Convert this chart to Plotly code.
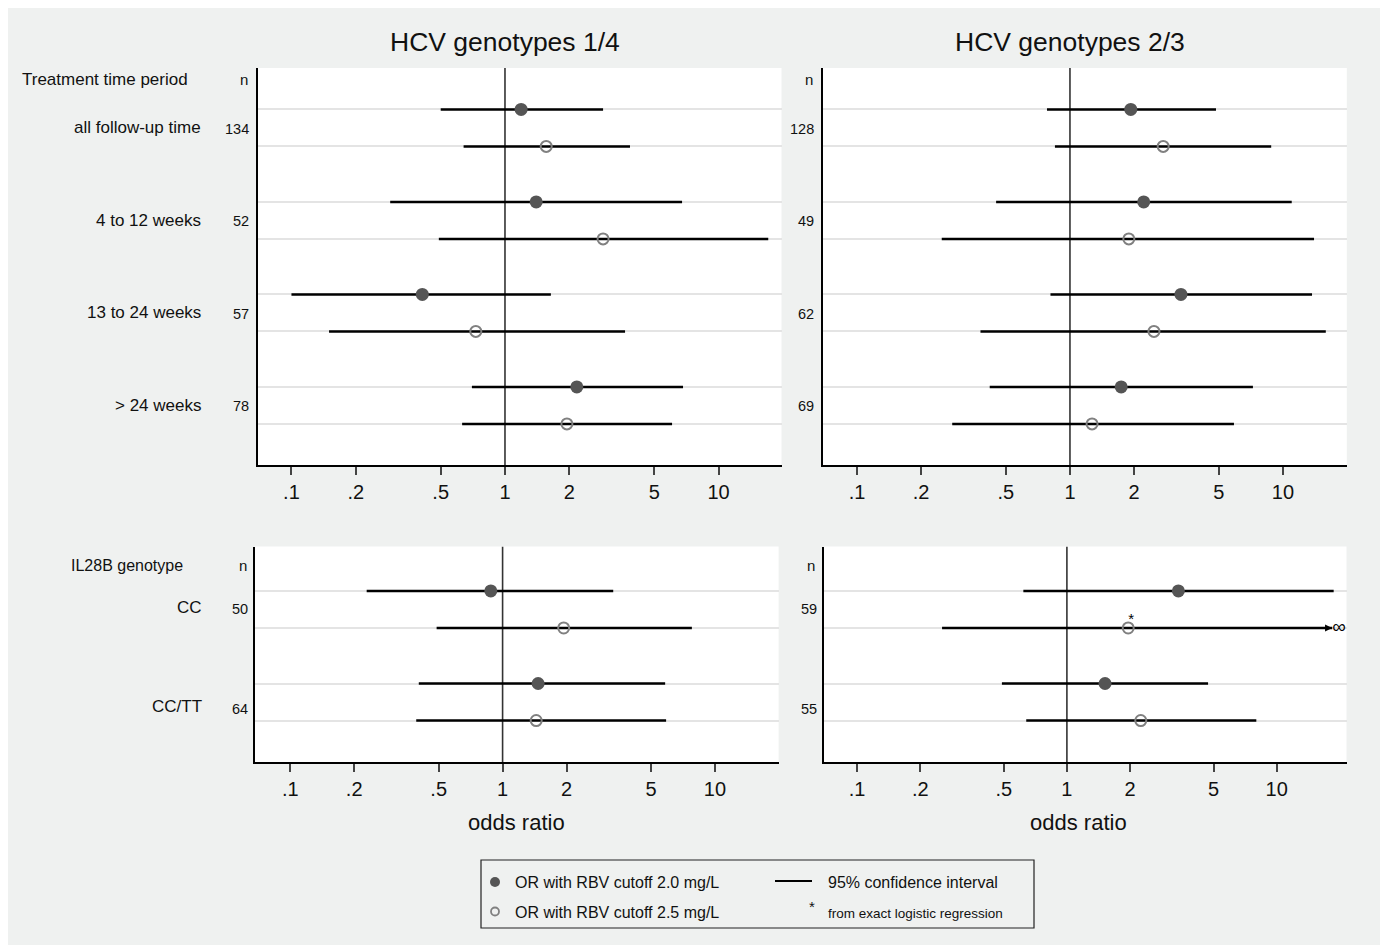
import math
import plotly.graph_objects as go

# ---------------- data ----------------
period_labels = ["all follow-up time", "4 to 12 weeks", "13 to 24 weeks", "> 24 weeks"]
period_n_14 = ["134", "52", "57", "78"]
period_n_23 = ["128", "49", "62", "69"]

il28b_labels = ["CC", "CC/TT"]
il28b_n_14 = ["50", "64"]
il28b_n_23 = ["59", "55"]

# HCV genotypes 1/4, treatment time period
or20_p14 = [1.19, 1.40, 0.41, 2.17]
lo20_p14 = [0.50, 0.29, 0.10, 0.70]
hi20_p14 = [2.88, 6.75, 1.64, 6.82]
or25_p14 = [1.56, 2.88, 0.73, 1.95]
lo25_p14 = [0.64, 0.49, 0.15, 0.63]
hi25_p14 = [3.85, 17.1, 3.65, 6.06]

# HCV genotypes 2/3, treatment time period
or20_p23 = [1.93, 2.22, 3.32, 1.74]
lo20_p23 = [0.78, 0.45, 0.81, 0.42]
hi20_p23 = [4.85, 11.0, 13.7, 7.23]
or25_p23 = [2.74, 1.89, 2.48, 1.27]
lo25_p23 = [0.85, 0.25, 0.38, 0.28]
hi25_p23 = [8.81, 14.0, 15.9, 5.89]

# HCV genotypes 1/4, IL28B genotype
or20_i14 = [0.88, 1.47]
lo20_i14 = [0.229, 0.403]
hi20_i14 = [3.32, 5.83]
or25_i14 = [1.94, 1.44]
lo25_i14 = [0.489, 0.392]
hi25_i14 = [7.79, 5.89]

# HCV genotypes 2/3, IL28B genotype (None = infinite upper bound)
or20_i23 = [3.40, 1.52]
lo20_i23 = [0.62, 0.49]
hi20_i23 = [18.7, 4.71]
or25_i23 = [1.96, 2.25]
lo25_i23 = [0.254, 0.64]
hi25_i23 = [None, 8.0]
exact_i23 = [True, False]   # cutoff 2.5 estimates from exact logistic regression

tick_vals = [0.1, 0.2, 0.5, 1, 2, 5, 10]
tick_text = [".1", ".2", ".5", "1", "2", "5", "10"]

# ---------------- style ----------------
W, H = 1388, 945
OFF = 8  # page margin of the browser
FONT = "Liberation Sans, Arial, Helvetica, sans-serif"
BG = "#eff1f0"
FILL_COL = "#555555"
OPEN_COL = "#808080"
INF_CAP = 18.4  # where an infinite upper bound is drawn (arrow end)


def px(x):
    return (x - OFF) / W


def py(y):
    return 1 - (y - OFF) / H


fig = go.Figure()

panels = [
    dict(ax="", xd=(257.5, 781.5), yd=(68, 465), xr=(-1.159, 1.295), yr=(-9.61, 1.12),
         d=(or20_p14, lo20_p14, hi20_p14, or25_p14, lo25_p14, hi25_p14), exact=None),
    dict(ax="2", xd=(822.5, 1346.8), yd=(68, 465), xr=(-1.162, 1.300), yr=(-9.61, 1.12),
         d=(or20_p23, lo20_p23, hi20_p23, or25_p23, lo25_p23, hi25_p23), exact=None),
    dict(ax="3", xd=(254.6, 778.6), yd=(546.5, 762), xr=(-1.168, 1.300), yr=(-4.62, 1.20),
         d=(or20_i14, lo20_i14, hi20_i14, or25_i14, lo25_i14, hi25_i14), exact=None),
    dict(ax="4", xd=(824, 1346.5), yd=(546.5, 762), xr=(-1.158, 1.333), yr=(-4.62, 1.20),
         d=(or20_i23, lo20_i23, hi20_i23, or25_i23, lo25_i23, hi25_i23), exact=exact_i23),
]

annotations = []
shapes = []

for p in panels:
    o20, l20, h20, o25, l25, h25 = p["d"]
    ng = len(o20)
    rows20 = [-(2.5 * g) for g in range(ng)]
    rows25 = [-(2.5 * g + 1) for g in range(ng)]
    xa = "x" + p["ax"]
    ya = "y" + p["ax"]

    # reference line at OR = 1
    fig.add_trace(go.Scatter(x=[1, 1], y=list(p["yr"]), mode="lines",
                             line=dict(color="#333333", width=1.6),
                             xaxis=xa, yaxis=ya, showlegend=False, hoverinfo="skip"))

    # CI lines
    cx, cy = [], []
    inf_rows = []
    for lo, hi, r in list(zip(l20, h20, rows20)) + list(zip(l25, h25, rows25)):
        top = hi if hi is not None else INF_CAP
        if hi is None:
            inf_rows.append(r)
        cx += [lo, top, None]
        cy += [r, r, None]
    fig.add_trace(go.Scatter(x=cx, y=cy, mode="lines", line=dict(color="#000000", width=2.6),
                             xaxis=xa, yaxis=ya, showlegend=False, hoverinfo="skip"))

    # point estimates
    fig.add_trace(go.Scatter(x=o20, y=rows20, mode="markers",
                             marker=dict(symbol="circle", size=13, color=FILL_COL,
                                         line=dict(width=0)),
                             xaxis=xa, yaxis=ya, showlegend=False))
    fig.add_trace(go.Scatter(x=o25, y=rows25, mode="markers",
                             marker=dict(symbol="circle-open", size=11, color=OPEN_COL,
                                         line=dict(width=2, color=OPEN_COL)),
                             xaxis=xa, yaxis=ya, showlegend=False))

    # infinite upper bounds: arrow + infinity sign
    for r in inf_rows:
        annotations.append(dict(x=math.log10(INF_CAP), y=r, xref=xa, yref=ya,
                                ax=math.log10(INF_CAP) - 0.06, ay=r, axref=xa, ayref=ya,
                                showarrow=True, arrowhead=2, arrowsize=1.1, arrowwidth=1.3,
                                arrowcolor="#000000", text=""))
        fig.add_trace(go.Scatter(x=[INF_CAP], y=[r], mode="text", text=["∞"],
                                 textposition="middle right",
                                 textfont=dict(family=FONT, size=19, color="#000000"),
                                 cliponaxis=False, xaxis=xa, yaxis=ya, showlegend=False))
    if p["exact"] is not None:
        ex_x = [v for v, e in zip(o25, p["exact"]) if e]
        ex_y = [r for r, e in zip(rows25, p["exact"]) if e]
        fig.add_trace(go.Scatter(x=ex_x, y=ex_y, mode="text", text=["*"] * len(ex_x),
                                 textposition="top right",
                                 textfont=dict(family=FONT, size=15, color="#000000"),
                                 cliponaxis=False, xaxis=xa, yaxis=ya, showlegend=False))

    axis_x = dict(type="log", domain=[px(p["xd"][0]), px(p["xd"][1])], range=list(p["xr"]),
                  anchor=ya, tickvals=tick_vals, ticktext=tick_text, ticks="outside",
                  ticklen=8, tickwidth=1.5, tickcolor="#444444",
                  tickfont=dict(family=FONT, size=20, color="#111111"),
                  showline=True, linecolor="#000000", linewidth=1.5, mirror=False,
                  showgrid=False, zeroline=False, fixedrange=True)
    axis_y = dict(domain=[py(p["yd"][1]), py(p["yd"][0])], range=list(p["yr"]), anchor=xa,
                  tickvals=sorted(rows20 + rows25), showticklabels=False, ticks="",
                  showgrid=True, gridcolor="#e4e4e4", gridwidth=1.6,
                  showline=True, linecolor="#000000", linewidth=1.5, mirror=False,
                  zeroline=False, fixedrange=True)
    fig.update_layout(**{"xaxis" + p["ax"]: axis_x, "yaxis" + p["ax"]: axis_y})


def txt(x, y, s, size, anchor="right", yanchor="middle", color="#111111"):
    annotations.append(dict(x=x, y=y, xref="paper", yref="paper", text=s, showarrow=False,
                            xanchor=anchor, yanchor=yanchor,
                            font=dict(family=FONT, size=size, color=color)))


# titles
txt(px(505), py(42), "HCV genotypes 1/4", 26.5, anchor="center")
txt(px(1070), py(42), "HCV genotypes 2/3", 26.5, anchor="center")

# row labels, top panels
txt(px(20), py(79), "Treatment time period", 17, anchor="left")
txt(px(250), py(79), "n", 15)
txt(px(815), py(79), "n", 15)
for g, lab in enumerate(period_labels):
    ymid = -(2.5 * g) - 0.5
    annotations.append(dict(x=px(203), y=ymid, xref="paper", yref="y", text=lab,
                            showarrow=False, xanchor="right", yanchor="middle",
                            font=dict(family=FONT, size=17, color="#111111")))
    annotations.append(dict(x=px(251), y=ymid, xref="paper", yref="y", text=period_n_14[g],
                            yshift=-1, showarrow=False, xanchor="right", yanchor="middle",
                            font=dict(family=FONT, size=14.5, color="#111111")))
    annotations.append(dict(x=px(816), y=ymid, xref="paper", yref="y2", text=period_n_23[g],
                            yshift=-1, showarrow=False, xanchor="right", yanchor="middle",
                            font=dict(family=FONT, size=14.5, color="#111111")))

# row labels, bottom panels
txt(px(69), py(565), "IL28B genotype", 16, anchor="left")
txt(px(249), py(565), "n", 15)
txt(px(817), py(565), "n", 15)
il_label_shift = [2, -4]
il_n_shift = [0, -7]
for g, lab in enumerate(il28b_labels):
    ymid = -(2.5 * g) - 0.5
    annotations.append(dict(x=px(204), y=ymid, xref="paper", yref="y3", text=lab,
                            yshift=il_label_shift[g], showarrow=False, xanchor="right",
                            yanchor="middle", font=dict(family=FONT, size=17, color="#111111")))
    annotations.append(dict(x=px(250), y=ymid, xref="paper", yref="y3", text=il28b_n_14[g],
                            yshift=il_n_shift[g], showarrow=False, xanchor="right",
                            yanchor="middle", font=dict(family=FONT, size=14.5, color="#111111")))
    annotations.append(dict(x=px(819), y=ymid, xref="paper", yref="y4", text=il28b_n_23[g],
                            yshift=il_n_shift[g], showarrow=False, xanchor="right",
                            yanchor="middle", font=dict(family=FONT, size=14.5, color="#111111")))

# x-axis titles
txt(px(516), py(822), "odds ratio", 22, anchor="center")
txt(px(1078), py(822), "odds ratio", 22, anchor="center")

# legend box
shapes.append(dict(type="rect", xref="paper", yref="paper", x0=px(481), x1=px(1034),
                   y0=py(928), y1=py(860), line=dict(color="#222222", width=1.2),
                   fillcolor=BG))
shapes.append(dict(type="circle", xref="paper", yref="paper", x0=px(490), x1=px(500),
                   y0=py(887), y1=py(877), fillcolor=FILL_COL, line=dict(width=0)))
shapes.append(dict(type="circle", xref="paper", yref="paper", x0=px(491), x1=px(499),
                   y0=py(915.5), y1=py(907.5), fillcolor="rgba(0,0,0,0)",
                   line=dict(color=OPEN_COL, width=1.8)))
shapes.append(dict(type="line", xref="paper", yref="paper", x0=px(775), x1=px(812),
                   y0=py(881), y1=py(881), line=dict(color="#000000", width=2.2)))
txt(px(513), py(882), "OR with RBV cutoff 2.0 mg/L", 16, anchor="left")
txt(px(513), py(912), "OR with RBV cutoff 2.5 mg/L", 16, anchor="left")
txt(px(826), py(882), "95% confidence interval", 16, anchor="left")
txt(px(812), py(906), "*", 15, anchor="center")
txt(px(826), py(913), "from exact logistic regression", 13.5, anchor="left")

fig.update_layout(width=W, height=H, margin=dict(l=0, r=0, t=0, b=0),
                  paper_bgcolor=BG, plot_bgcolor="#ffffff",
                  showlegend=False, annotations=annotations, shapes=shapes,
                  font=dict(family=FONT))

fig.write_html("out.html")
